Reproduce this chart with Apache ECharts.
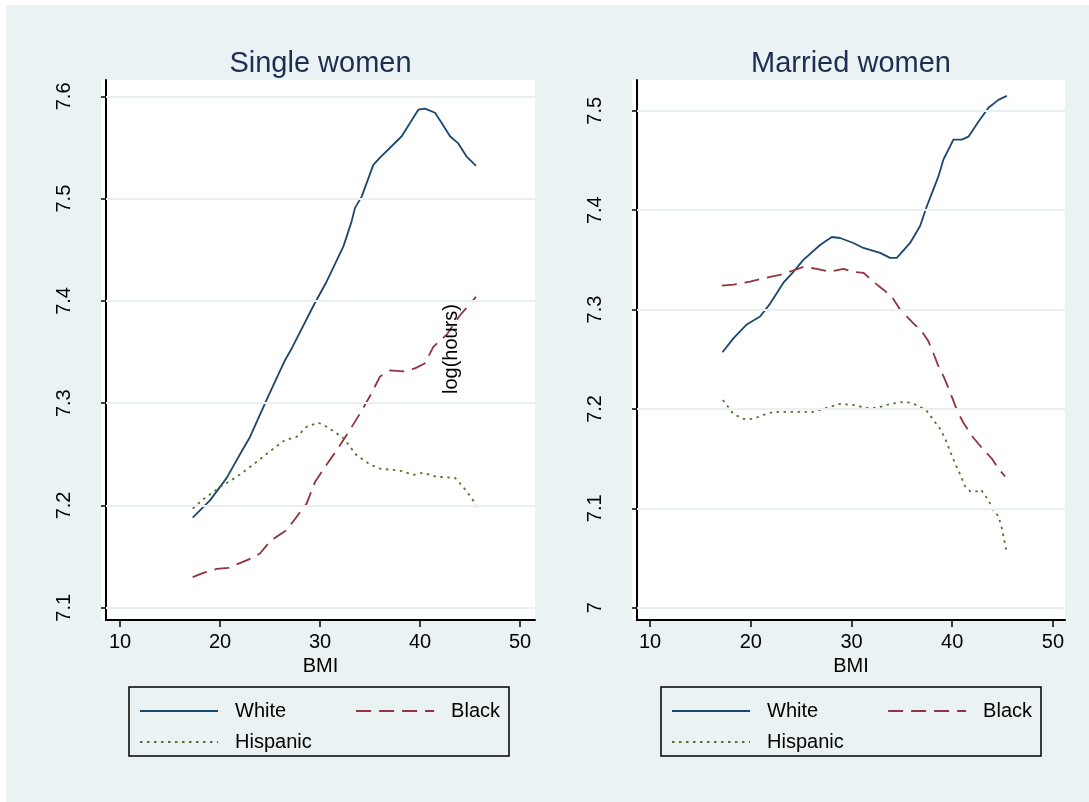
<!DOCTYPE html>
<html>
<head>
<meta charset="utf-8">
<script src="https://cdn.jsdelivr.net/npm/echarts@6/dist/echarts.min.js"></script>
<style>
html,body{margin:0;padding:0;background:#ffffff;}
#c{position:absolute;left:0;top:0;width:1089px;height:802px;}
</style>
</head>
<body>
<div id="c"></div>
<script>
// ---------- data ----------
const panelTitles = ["Single women", "Married women"];
const seriesNames = ["White", "Black", "Hispanic"];
const xTicks = [10, 20, 30, 40, 50];
const yTicksSingle = [7.1, 7.2, 7.3, 7.4, 7.5, 7.6];
const yTicksMarried = [7, 7.1, 7.2, 7.3, 7.4, 7.5];

// Single women
const sWhiteBMI = [17.27, 19.0, 20.67, 22.17, 23.0, 24.83, 26.5, 27.2, 29.33, 30.67, 32.33, 33.17, 33.5, 34.17, 35.33, 36.0, 38.17, 39.0, 39.83, 40.5, 41.5, 42.17, 43.0, 43.83, 44.67, 45.6];
const sWhiteVal = [7.188, 7.205, 7.227, 7.253, 7.267, 7.307, 7.342, 7.354, 7.395, 7.419, 7.453, 7.478, 7.491, 7.502, 7.533, 7.540, 7.561, 7.574, 7.587, 7.588, 7.584, 7.574, 7.561, 7.554, 7.541, 7.532];
const sBlackBMI = [17.27, 18.33, 19.67, 20.83, 22.83, 24.0, 25.0, 26.67, 27.67, 28.67, 29.5, 30.67, 31.67, 33.0, 34.0, 35.0, 36.0, 37.0, 38.33, 39.5, 40.5, 41.33, 42.67, 44.0, 45.6];
const sBlackVal = [7.130, 7.134, 7.138, 7.139, 7.147, 7.153, 7.165, 7.176, 7.189, 7.202, 7.223, 7.240, 7.254, 7.274, 7.290, 7.307, 7.326, 7.332, 7.331, 7.334, 7.339, 7.355, 7.367, 7.386, 7.404];
const sHispBMI = [17.27, 18.33, 20.0, 21.67, 23.33, 25.0, 26.5, 27.67, 28.67, 29.83, 30.67, 32.33, 33.67, 35.0, 36.0, 38.0, 39.33, 40.33, 41.67, 43.5, 44.33, 45.17, 45.83];
const sHispVal = [7.197, 7.206, 7.218, 7.228, 7.240, 7.253, 7.264, 7.267, 7.277, 7.281, 7.277, 7.266, 7.249, 7.240, 7.236, 7.234, 7.230, 7.232, 7.228, 7.227, 7.218, 7.207, 7.197];

// Married women
const mWhiteBMI = [17.18, 18.27, 19.6, 20.92, 21.92, 23.24, 24.23, 25.22, 26.88, 28.04, 28.86, 30.19, 31.18, 32.84, 33.83, 34.5, 35.82, 36.81, 37.48, 38.13, 38.63, 39.13, 40.12, 40.95, 41.61, 42.6, 43.6, 44.59, 45.42];
const mWhiteVal = [7.257, 7.271, 7.285, 7.293, 7.306, 7.327, 7.338, 7.350, 7.365, 7.373, 7.372, 7.367, 7.362, 7.357, 7.352, 7.352, 7.367, 7.384, 7.404, 7.421, 7.434, 7.451, 7.471, 7.471, 7.474, 7.489, 7.503, 7.511, 7.515];
const mBlackBMI = [17.12, 18.27, 19.93, 21.92, 22.91, 24.4, 25.22, 26.55, 27.87, 29.19, 30.19, 31.18, 32.17, 33.17, 34.0, 34.82, 36.15, 36.98, 37.64, 38.13, 38.63, 39.13, 39.63, 40.46, 41.11, 42.1, 43.1, 43.93, 44.59, 45.25];
const mBlackVal = [7.324, 7.325, 7.328, 7.333, 7.335, 7.340, 7.343, 7.341, 7.338, 7.341, 7.338, 7.337, 7.328, 7.320, 7.313, 7.300, 7.286, 7.278, 7.268, 7.256, 7.243, 7.233, 7.221, 7.199, 7.186, 7.171, 7.159, 7.150, 7.140, 7.132];
const mHispBMI = [17.22, 17.61, 18.27, 19.26, 20.26, 21.25, 22.24, 24.23, 26.22, 27.2, 28.86, 30.19, 31.51, 32.5, 33.83, 35.15, 35.98, 36.81, 37.48, 38.13, 38.8, 39.3, 39.8, 40.29, 40.79, 41.29, 41.78, 42.44, 42.84, 43.6, 44.09, 44.59, 44.93, 45.16, 45.42];
const mHispVal = [7.209, 7.204, 7.195, 7.190, 7.190, 7.194, 7.197, 7.197, 7.197, 7.200, 7.205, 7.204, 7.201, 7.201, 7.205, 7.207, 7.206, 7.202, 7.198, 7.189, 7.180, 7.170, 7.157, 7.145, 7.134, 7.122, 7.117, 7.117, 7.119, 7.108, 7.098, 7.092, 7.080, 7.068, 7.055];

// ---------- styling ----------
const FONT = "'Liberation Sans', Arial, sans-serif";
const colors = ["#1a476f", "#90353b", "#55752f"];
const lineTypes = ["solid", [15, 8], [2.5, 4.5]];
const zip = (a, b) => a.map((v, i) => [v, b[i]]);

const grids = [
  { left: 106, top: 80, width: 429, height: 540 },
  { left: 637, top: 80, width: 428, height: 540 }
];
const xRanges = [[8.6, 51.5], [8.7, 51.2]];
const yRanges = [[7.088, 7.616], [6.9876, 7.531]];
const yTicks = [yTicksSingle, yTicksMarried];

const panelData = [
  [zip(sWhiteBMI, sWhiteVal), zip(sBlackBMI, sBlackVal), zip(sHispBMI, sHispVal)],
  [zip(mWhiteBMI, mWhiteVal), zip(mBlackBMI, mBlackVal), zip(mHispBMI, mHispVal)]
];

const chart = echarts.init(document.getElementById('c'), null, { renderer: 'canvas' });

const xAxis = grids.map((g, i) => ({
  type: 'value', gridIndex: i, min: xRanges[i][0], max: xRanges[i][1],
  name: 'BMI', nameLocation: 'middle', nameGap: 33,
  nameTextStyle: { fontFamily: FONT, fontSize: 20, color: '#000' },
  axisLine: { show: true, lineStyle: { color: '#000', width: 2 } },
  axisTick: { show: true, length: 7, lineStyle: { color: '#000', width: 1.5 }, customValues: xTicks },
  axisLabel: { fontFamily: FONT, fontSize: 20, color: '#000', margin: 12, customValues: xTicks },
  splitLine: { show: false }
}));

const yAxis = grids.map((g, i) => ({
  type: 'value', gridIndex: i, min: yRanges[i][0], max: yRanges[i][1],
  axisLine: { show: true, lineStyle: { color: '#000', width: 2 } },
  axisTick: { show: true, length: 5, lineStyle: { color: '#000', width: 1.5 }, customValues: yTicks[i] },
  axisLabel: { fontFamily: FONT, fontSize: 20, color: '#000', margin: 32, rotate: 90, customValues: yTicks[i] },
  splitLine: { show: false }
}));

const series = [];
panelData.forEach((pd, p) => {
  pd.forEach((d, k) => {
    series.push({
      type: 'line', name: seriesNames[k], xAxisIndex: p, yAxisIndex: p,
      data: d, showSymbol: false, symbol: 'none', smooth: false,
      lineStyle: { color: colors[k], width: 1.8, type: lineTypes[k] },
      itemStyle: { color: colors[k] },
      silent: true, animation: false
    });
  });
  // horizontal grid lines at tick values
  series.push({
    type: 'line', xAxisIndex: p, yAxisIndex: p, data: [], silent: true, animation: false,
    markLine: {
      silent: true, symbol: 'none', label: { show: false },
      lineStyle: { color: '#e8f0f2', width: 2, type: 'solid' },
      data: yTicks[p].map(v => ({ yAxis: v }))
    },
    z: 0
  });
});

const legendBase = {
  selectedMode: false, padding: 0, itemWidth: 78, itemHeight: 14, itemGap: 69,
  itemStyle: { opacity: 0, borderWidth: 0 },
  textStyle: { fontFamily: FONT, fontSize: 20, color: '#000', padding: [0, 0, 0, 12] },
  orient: 'horizontal'
};
const legendLefts = [139, 671];
const legends = [];
legendLefts.forEach(l => {
  legends.push(Object.assign({}, legendBase, { left: l, top: 701, data: ['White', 'Black'] }));
  legends.push(Object.assign({}, legendBase, { left: l, top: 732, data: ['Hispanic'] }));
});

const graphic = [
  { type: 'rect', shape: { x: 6, y: 5, width: 1083, height: 797 }, style: { fill: '#eaf2f3' }, z: -10, silent: true },
  { type: 'rect', shape: { x: 101, y: 80, width: 434, height: 540 }, style: { fill: '#ffffff' }, z: -9, silent: true },
  { type: 'rect', shape: { x: 632, y: 80, width: 433, height: 540 }, style: { fill: '#ffffff' }, z: -9, silent: true },
  { type: 'rect', shape: { x: 129, y: 687, width: 380, height: 69 }, style: { fill: 'rgba(0,0,0,0)', stroke: '#000', lineWidth: 1.5 }, z: 5, silent: true },
  { type: 'rect', shape: { x: 661, y: 687, width: 380, height: 69 }, style: { fill: 'rgba(0,0,0,0)', stroke: '#000', lineWidth: 1.5 }, z: 5, silent: true },
  { type: 'text', x: 451, y: 349, rotation: Math.PI / 2, style: { text: 'log(hours)', fontFamily: FONT, fontSize: 20, fill: '#000', align: 'center', verticalAlign: 'middle' }, z: 10, silent: true }
];

chart.setOption({
  backgroundColor: '#ffffff',
  animation: false,
  title: [
    { text: panelTitles[0], left: 320.5, top: 49, textAlign: 'center', padding: 0, textStyle: { fontFamily: FONT, fontSize: 29, fontWeight: 'normal', color: '#1e2d52' } },
    { text: panelTitles[1], left: 851, top: 49, textAlign: 'center', padding: 0, textStyle: { fontFamily: FONT, fontSize: 29, fontWeight: 'normal', color: '#1e2d52' } }
  ],
  grid: grids.map(g => Object.assign({ containLabel: false }, g)),
  xAxis, yAxis, series,
  legend: legends,
  graphic
});
</script>
</body>
</html>
